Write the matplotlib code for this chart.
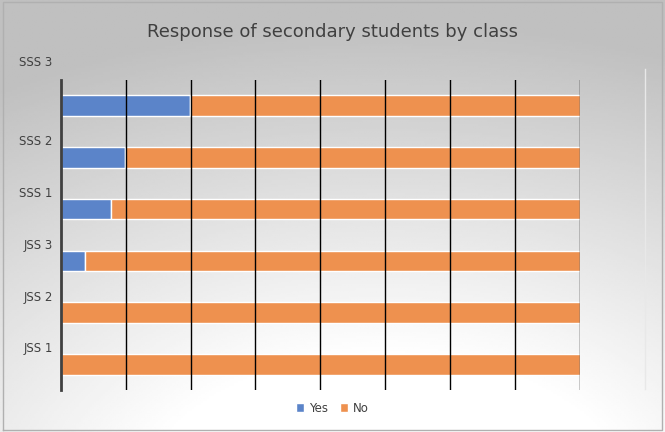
import numpy as np
import matplotlib
matplotlib.use("Agg")
import matplotlib.pyplot as plt

CLASSES = ["JSS 1", "JSS 2", "JSS 3", "SSS 1", "SSS 2", "SSS 3"]
YES = [0, 0, 4.6, 9.7, 12.4, 24.9]
NO = [100 - v for v in YES]

BLUE = "#5B84C9"
ORANGE = "#EE914F"

fig = plt.figure(figsize=(6.65, 4.32), dpi=100)

# gradient background
bg = fig.add_axes([0, 0, 1, 1], zorder=-10)
xx, yy = np.meshgrid(np.linspace(0, 1, 300), np.linspace(0, 1, 200))
d = np.sqrt(((xx - 0.58) * 1.0) ** 2 + (yy + 0.2) ** 2)
val = np.clip(1.12 - 0.32 * d, 0.75, 1.0)
bg.imshow(val, cmap="gray", vmin=0, vmax=1, extent=[0, 1, 0, 1],
          origin="lower", aspect="auto")
bg.plot([0.004, 0.996, 0.996, 0.004, 0.004], [0.004, 0.004, 0.996, 0.996, 0.004],
        color="#b0b0b0", lw=1)
bg.plot([0.970, 0.970], [0.10, 0.84], color="#e8e8e8", lw=1)
bg.set_xlim(0, 1)
bg.set_ylim(0, 1)
bg.axis("off")

ax = fig.add_axes([0.0917, 0.097, 0.780, 0.718])
ax.patch.set_alpha(0)
y = np.arange(len(CLASSES))
ax.barh(y, YES, height=0.4, color=BLUE, edgecolor="white", lw=1, label="Yes", zorder=2)
ax.barh(y, NO, left=YES, height=0.4, color=ORANGE, edgecolor="white", lw=1,
        label="No", zorder=2)
ax.set_xlim(0, 100)
ax.set_ylim(-0.5, 5.5)
for gx in np.arange(12.5, 100.1, 12.5):
    ax.axvline(gx, color="black", lw=1, zorder=3)
for s in ["top", "right", "bottom"]:
    ax.spines[s].set_visible(False)
ax.spines["left"].set_color("#404040")
ax.spines["left"].set_linewidth(2)
ax.spines["left"].set_zorder(4)
ax.set_xticks([])
ax.set_yticks([])
for yi, lab in zip(y, CLASSES):
    off = 0.83 if yi == len(CLASSES) - 1 else 0.3
    ax.text(-1.6, yi + off, lab, ha="right", va="center", fontsize=8.5,
            color="#404040", clip_on=False)

fig.text(0.5, 0.925, "Response of secondary students by class", ha="center",
         va="center", fontsize=13, color="#404040")
fig.legend(loc="center", bbox_to_anchor=(0.5, 0.055), ncol=2, frameon=False,
           fontsize=8.5, handlelength=0.7, handleheight=0.7, columnspacing=1.0,
           handletextpad=0.4, labelcolor="#404040")

fig.savefig("out.png", dpi=100)
